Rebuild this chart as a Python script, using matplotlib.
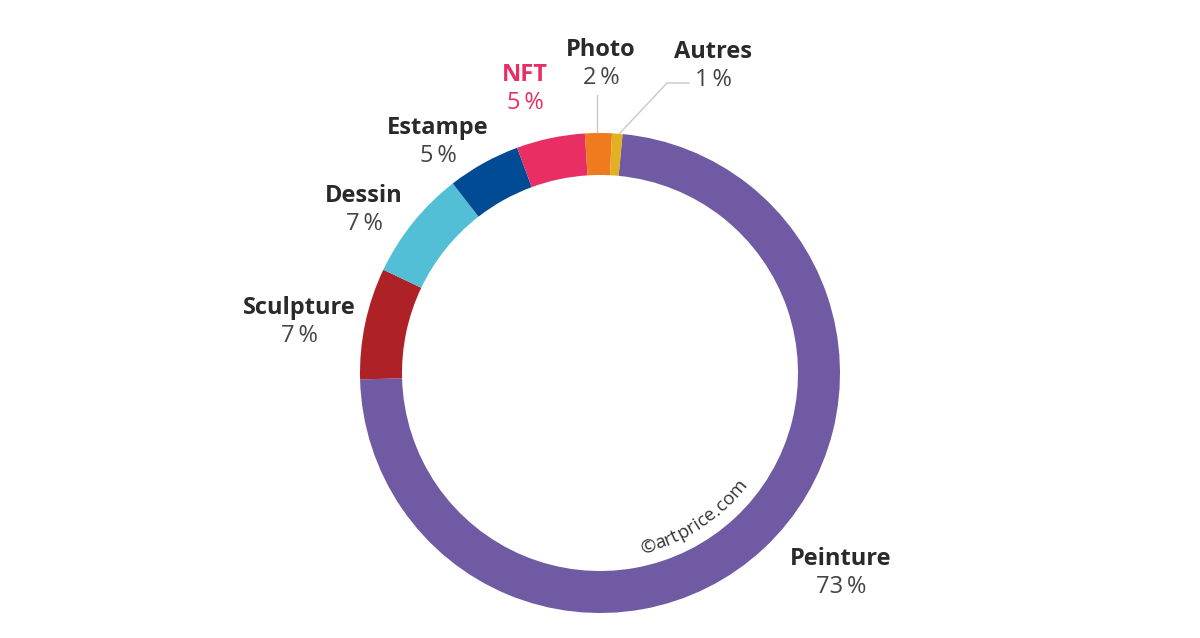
import matplotlib
matplotlib.use("Agg")
import matplotlib.pyplot as plt
import numpy as np

categories = ["Peinture", "Sculpture", "Dessin", "Estampe", "NFT", "Photo", "Autres"]
values = [73.0, 7.5, 7.4, 4.9, 4.6, 1.8, 0.7]
pct_labels = ["73%", "7%", "7%", "5%", "5%", "2%", "1%"]
colors = ["#6F5AA3", "#AE2126", "#52BFD6", "#004B94", "#E92E63", "#EF7B1E", "#E2B121"]
watermark = "©artprice.com"

W, H = 1200, 638
fig = plt.figure(figsize=(12, 6.38), dpi=100)
ax = fig.add_axes([0, 0, 1, 1])

cx, cy, R = 600, H - 373, 240
ax.pie(values, colors=colors, startangle=84.6, counterclock=False,
       center=(cx, cy), radius=R, frame=True,
       wedgeprops=dict(width=42, linewidth=0))
ax.set_xlim(0, W)
ax.set_ylim(0, H)
ax.set_aspect("equal")
ax.axis("off")

label_pos = {
    "Peinture": (841, 559),
    "Sculpture": (299, 308),
    "Dessin": (364, 196),
    "Estampe": (438, 128),
    "NFT": (525, 75),
    "Photo": (601, 50),
    "Autres": (713, 52),
}
for name, pct in zip(categories, pct_labels):
    x, y = label_pos[name]
    c1 = "#E92E63" if name == "NFT" else "#2A2A2A"
    c2 = "#E92E63" if name == "NFT" else "#444444"
    ax.text(x, H - y, name, ha="center", va="center", fontsize=17,
            fontweight="bold", family="Open Sans", color=c1)
    ax.text(x, H - y - 28, pct.replace("%", "\u2009%"), ha="center", va="center",
            fontsize=17, family=["Open Sans", "DejaVu Sans"], color=c2)

ax.plot([597, 597], [H - 95, H - 132], color="#C8C8C8", lw=1)
ax.plot([689, 667, 620], [H - 83, H - 83, H - 133], color="#C8C8C8", lw=1)

# curved watermark along inner edge of ring
renderer = fig.canvas.get_renderer()
fs = 13.5
widths = []
for ch in watermark:
    t = ax.text(0, 0, ch, fontsize=fs, family="Open Sans")
    bb = t.get_window_extent(renderer)
    widths.append(bb.width)
    t.remove()
r_text = 180
total = sum(widths)
theta_mid = np.deg2rad(-57.0)
theta = theta_mid - (total / r_text) / 2
for ch, w in zip(watermark, widths):
    th = theta + (w / 2) / r_text
    x = cx + r_text * np.cos(th)
    y = cy + r_text * np.sin(th)
    ax.text(x, y, ch, fontsize=fs, family="Open Sans", color="#333333",
            rotation=np.rad2deg(th) + 90, rotation_mode="anchor",
            ha="center", va="center")
    theta += w / r_text

fig.savefig("out.png", dpi=100)
